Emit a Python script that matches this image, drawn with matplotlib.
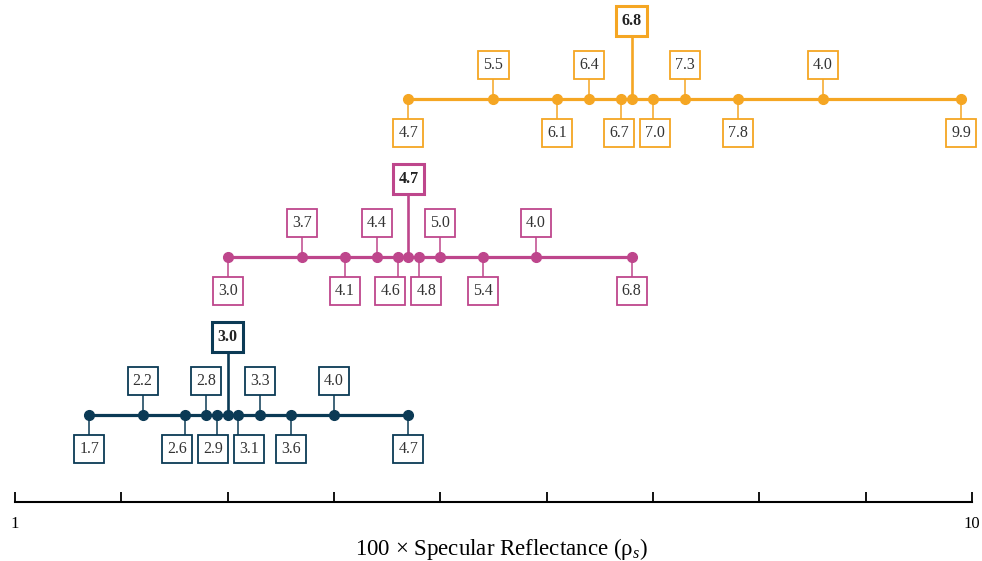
import matplotlib.pyplot as plt
from matplotlib.patches import Rectangle
import numpy as np

plt.rcParams['font.family'] = ['Liberation Serif', 'DejaVu Serif']
plt.rcParams['mathtext.fontset'] = 'custom'
plt.rcParams['mathtext.rm'] = 'Liberation Serif'
plt.rcParams['mathtext.it'] = 'Liberation Serif:italic'

# data: point positions (x) and the text shown in each box
orange_x = [4.7, 5.5, 6.1, 6.4, 6.7, 6.8, 7.0, 7.3, 7.8, 8.6, 9.9]
orange_labels = ["4.7", "5.5", "6.1", "6.4", "6.7", "6.8", "7.0", "7.3", "7.8", "4.0", "9.9"]
magenta_x = [3.0, 3.7, 4.1, 4.4, 4.6, 4.7, 4.8, 5.0, 5.4, 5.9, 6.8]
magenta_labels = ["3.0", "3.7", "4.1", "4.4", "4.6", "4.7", "4.8", "5.0", "5.4", "4.0", "6.8"]
navy_x = [1.7, 2.2, 2.6, 2.8, 2.9, 3.0, 3.1, 3.3, 3.6, 4.0, 4.7]
navy_labels = ["1.7", "2.2", "2.6", "2.8", "2.9", "3.0", "3.1", "3.3", "3.6", "4.0", "4.7"]

series = [
    (orange_x, orange_labels, "#F5A623", 403),
    (magenta_x, magenta_labels, "#BE468C", 245),
    (navy_x, navy_labels, "#0B3A55", 87),
]

PX = 957 / 9.0          # pixels per x unit
BOX_W = 30 / PX
BOX_H = 28
MIN_D = 36 / PX         # min distance between box centres in one row


def spread(xs, d):
    # push boxes in a row apart so they don't overlap, keep them near their points
    clusters = [[x] for x in xs]
    merged = True
    while merged:
        merged = False
        starts = [np.mean([v - k * d for k, v in enumerate(c)]) for c in clusters]
        for i in range(len(clusters) - 1):
            if starts[i] + len(clusters[i]) * d > starts[i + 1] + 1e-9:
                clusters[i] = clusters[i] + clusters.pop(i + 1)
                merged = True
                break
    out = []
    for c in clusters:
        s = np.mean([v - k * d for k, v in enumerate(c)])
        out += [s + k * d for k in range(len(c))]
    return out


def label_box(ax, x, y, text, color, bold=False):
    w = BOX_W * (1.04 if bold else 1)
    h = BOX_H + (2 if bold else 0)
    ax.add_patch(Rectangle((x - w / 2, y - h / 2), w, h, fc='white', ec=color,
                           lw=2.2 if bold else 1.3, zorder=4, clip_on=False))
    ax.text(x, y, text, ha='center', va='center', fontsize=11.5,
            fontweight='bold' if bold else 'normal',
            color='#222222' if bold else '#333333', zorder=5, clip_on=False)


fig = plt.figure(figsize=(9.82, 5.61), dpi=100)
ax = fig.add_axes([15 / 982, 59 / 561, 957 / 982, 502 / 561])
ax.set_xlim(1, 10)
ax.set_ylim(0, 502)

for xs, labels, color, level in series:
    n = len(xs)
    mid = n // 2
    ax.plot([xs[0], xs[-1]], [level, level], color=color, lw=2.3, zorder=2)
    ax.plot(xs, [level] * n, 'o', color=color, ms=7, zorder=3, clip_on=False)

    up, down = [], []
    for i in range(n):
        if i == mid:
            continue
        j = i if i < mid else i - mid - 1
        (up if j % 2 == 1 else down).append(i)

    for idx, dy in [(up, 34), (down, -34)]:
        box_x = spread([xs[i] for i in idx], MIN_D)
        for i, bx in zip(idx, box_x):
            ax.plot([xs[i], xs[i]], [level, level + dy], color=color, lw=1.1, zorder=1)
            label_box(ax, bx, level + dy, labels[i], color)

    ax.plot([xs[mid], xs[mid]], [level, level + 78], color=color, lw=1.9, zorder=1)
    label_box(ax, xs[mid], level + 78, labels[mid], color, bold=True)

for s in ['top', 'right', 'left']:
    ax.spines[s].set_visible(False)
ax.spines['bottom'].set_linewidth(1.5)
ax.set_yticks([])
ax.set_xticks(np.arange(1, 11))
ax.set_xticklabels(["1", "", "", "", "", "", "", "", "", "10"])
ax.tick_params(axis='x', direction='in', length=7, width=1.3, pad=10, labelsize=12)
ax.set_xlabel("100 × Specular Reflectance (ρ$_{\\it{s}}$)", fontsize=16.5)
ax.xaxis.set_label_coords(0.508, -0.068)

fig.savefig("out.png", dpi=100)
